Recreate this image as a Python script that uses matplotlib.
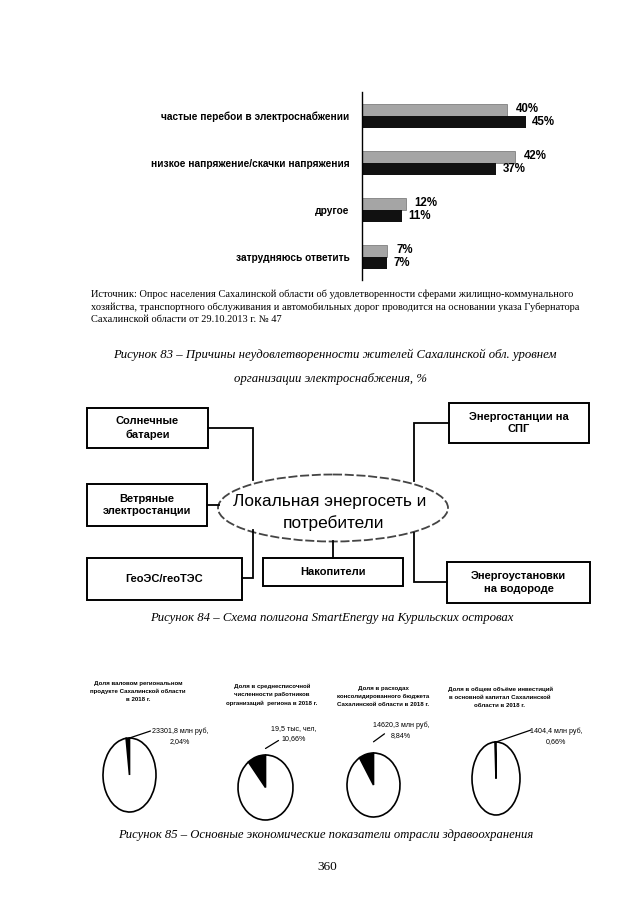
import numpy as np
import matplotlib
matplotlib.use('Agg')
import matplotlib.pyplot as plt
from matplotlib.patches import Rectangle, Ellipse

# Рисунок 83 - данные
reasons = ['частые перебои в электроснабжении', 'низкое напряжение/скачки напряжения',
           'другое', 'затрудняюсь ответить']
share_a = [40, 42, 12, 7]
share_b = [45, 37, 11, 7]

# Рисунок 85 - данные
pie_titles = ['Доля валовом региональном\nпродукте Сахалинской области\nв 2018 г.',
              'Доля в среднесписочной\nчисленности работников\nорганизаций  региона в 2018 г.',
              'Доля в расходах\nконсолидированного бюджета\nСахалинской области в 2018 г.',
              'Доля в общем объёме инвестиций\nв основной капитал Сахалинской\nобласти в 2018 г.']
pie_values = ['23301,8 млн руб.', '19,5 тыс. чел.', '14620,3 млн руб.', '1404,4 млн руб.']
pie_shares = [2.04, 10.66, 8.84, 0.66]

W, H = 632, 905
SERIF = ['Liberation Serif', 'DejaVu Serif']
SANS = ['Liberation Sans', 'DejaVu Sans']
NARROW = ['Liberation Sans Narrow', 'Liberation Sans', 'DejaVu Sans']

fig = plt.figure(figsize=(W / 100, H / 100), dpi=100)
bg = fig.add_axes([0, 0, 1, 1])
bg.set_xlim(0, W)
bg.set_ylim(H, 0)
bg.axis('off')


def px_axes(x0, y0, x1, y1):
    return fig.add_axes([x0 / W, 1 - y1 / H, (x1 - x0) / W, (y1 - y0) / H])


# ---- Рисунок 83: столбчатая диаграмма ----
ax = px_axes(362, 92, 580, 280)
y = np.arange(len(reasons))
h = 0.255
ax.barh(y - h / 2, share_a, height=h, color='#a5a5a5', edgecolor='#555555', lw=0.4)
ax.barh(y + h / 2, share_b, height=h, color='#111111')
for i in range(len(reasons)):
    ax.annotate(f'{share_a[i]}%', (share_a[i], y[i] - h / 2), xytext=(9, 1),
                textcoords='offset pixels', va='center', ha='left',
                fontsize=8.3, fontweight='bold', family=SANS)
    ax.annotate(f'{share_b[i]}%', (share_b[i], y[i] + h / 2), xytext=(6, 0),
                textcoords='offset pixels', va='center', ha='left',
                fontsize=8.3, fontweight='bold', family=SANS)
ax.set_xlim(0, 60)
ax.set_ylim(3.49, -0.51)
ax.set_yticks(y)
ax.set_yticklabels(reasons, fontsize=7.3, fontweight='bold', family=SANS)
ax.tick_params(axis='y', length=0, pad=9)
ax.set_xticks([])
for s in ['top', 'right', 'bottom']:
    ax.spines[s].set_visible(False)
ax.spines['left'].set_linewidth(1.0)

source = ('Источник: Опрос населения Сахалинской области об удовлетворенности сферами жилищно-коммунального\n'
          'хозяйства, транспортного обслуживания и автомобильных дорог проводится на основании указа Губернатора\n'
          'Сахалинской области от 29.10.2013 г. № 47')
bg.text(91, 289, source, fontsize=7.45, family=SERIF, va='top', ha='left', linespacing=1.5)
bg.text(335, 355, 'Рисунок 83 – Причины неудовлетворенности жителей Сахалинской обл. уровнем',
        fontsize=9.2, family=SERIF, style='italic', ha='center', va='center')
bg.text(330, 379, 'организации электроснабжения, %',
        fontsize=9.2, family=SERIF, style='italic', ha='center', va='center')

# ---- Рисунок 84: схема ----
boxes = [
    (87, 408, 208, 448, 'Солнечные\nбатареи'),
    (87, 484, 207, 526, 'Ветряные\nэлектростанции'),
    (87, 558, 242, 600, 'ГеоЭС/геоТЭС'),
    (263, 558, 403, 586, 'Накопители'),
    (449, 403, 589, 443, 'Энергостанции на\nСПГ'),
    (447, 562, 590, 603, 'Энергоустановки\nна водороде'),
]
for x0, y0, x1, y1, txt in boxes:
    bg.add_patch(Rectangle((x0, y0), x1 - x0, y1 - y0, fill=False, ec='black', lw=1.4))
    bg.text((x0 + x1) / 2, (y0 + y1) / 2, txt, ha='center', va='center', fontsize=8.0,
            fontweight='bold', family=SANS, linespacing=1.3)

links = [
    ([208, 253, 253], [428, 428, 480]),
    ([207, 219], [505, 505]),
    ([242, 253, 253], [578, 578, 530]),
    ([333, 333], [558, 541]),
    ([449, 414, 414], [423, 423, 481]),
    ([447, 414, 414], [582, 582, 533]),
]
for xs, ys in links:
    bg.plot(xs, ys, color='black', lw=1.3, solid_joinstyle='miter')

bg.add_patch(Ellipse((333, 508), 230, 67, fill=True, fc='white', ec='#444444',
                     lw=1.3, ls=(0, (5, 1.5))))
bg.text(330, 501, 'Локальная энергосеть и', ha='center', va='center', fontsize=12.4, family=SANS)
bg.text(333, 523, 'потребители', ha='center', va='center', fontsize=12.4, family=SANS)
bg.text(332, 618, 'Рисунок 84 – Схема полигона SmartEnergy на Курильских островах',
        fontsize=9.2, family=SERIF, style='italic', ha='center', va='center')

# ---- Рисунок 85: круговые диаграммы ----
pie_boxes = [(129.5, 775, 53, 74), (265.5, 787.5, 55, 65), (373.5, 785, 53, 64), (496, 778.5, 48, 73)]
title_pos = [(138, 681), (272, 684), (383, 686), (500, 687)]
leader = [(1.0, 21, 7, 180, 728), (1.2, 13, 8, 294, 725), (1.35, 11, 8, 401, 722), (1.0, 35, 12, 556, 728)]

for i in range(4):
    cx, cy, w, hh = pie_boxes[i]
    m = 1.1
    pa = px_axes(cx - w / 2 * m, cy - hh / 2 * m, cx + w / 2 * m, cy + hh / 2 * m)
    wedges, _ = pa.pie([pie_shares[i], 100 - pie_shares[i]], colors=['black', 'white'],
                       startangle=90, counterclock=True,
                       wedgeprops=dict(edgecolor='black', linewidth=1.2))
    pa.set_aspect('auto')
    pa.set_xlim(-m, m)
    pa.set_ylim(-m, m)
    pa.axis('off')

    r0, dx, dy, tx, ty = leader[i]
    pa.annotate('', xy=(0.0, r0), xytext=(dx, dy), textcoords='offset pixels',
                annotation_clip=False,
                arrowprops=dict(arrowstyle='-', color='black', lw=0.9, shrinkA=0, shrinkB=0))
    bg.text(tx, ty, f'{pie_values[i]}\n{pie_shares[i]:.2f}%'.replace('.', ','),
            ha='center', va='top', fontsize=5.1, family=NARROW, linespacing=1.55)
    bg.text(title_pos[i][0], title_pos[i][1], pie_titles[i], ha='center', va='top',
            fontsize=4.4, fontweight='bold', family=NARROW, linespacing=1.75)

bg.text(326, 835, 'Рисунок 85 – Основные экономические показатели отрасли здравоохранения',
        fontsize=9.1, family=SERIF, style='italic', ha='center', va='center')
bg.text(327, 867, '360', fontsize=9.5, family=SERIF, ha='center', va='center')

fig.savefig('out.png', dpi=100)
